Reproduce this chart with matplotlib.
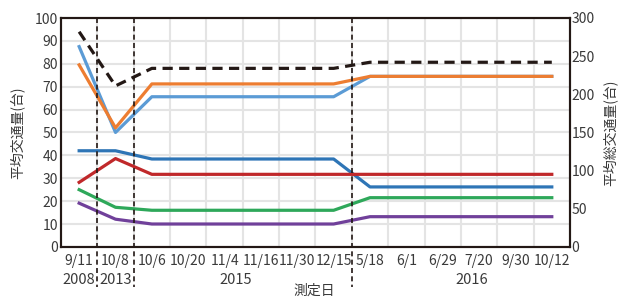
import matplotlib
matplotlib.use("Agg")
import matplotlib.pyplot as plt
import matplotlib.transforms as mtransforms
import numpy as np

plt.rcParams['font.family'] = ['Noto Sans CJK JP', 'DejaVu Sans']

dates = ['9/11', '10/8', '10/6', '10/20', '11/4', '11/16', '11/30', '12/15',
         '5/18', '6/1', '6/29', '7/20', '9/30', '10/12']
years = ['2008', '2013', '2015', '2016']
year_pos = [0, 1, 4.3, 10.8]
year_breaks = [0.5, 1.5, 7.5]

# left axis series (台)
light_blue = [87.5, 50, 65.6, 65.6, 65.6, 65.6, 65.6, 65.6, 74.5, 74.5, 74.5, 74.5, 74.5, 74.5]
orange = [79.5, 52, 71.2, 71.2, 71.2, 71.2, 71.2, 71.2, 74.5, 74.5, 74.5, 74.5, 74.5, 74.5]
blue = [42, 42, 38.4, 38.4, 38.4, 38.4, 38.4, 38.4, 26.2, 26.2, 26.2, 26.2, 26.2, 26.2]
red = [28.2, 38.6, 31.7, 31.7, 31.7, 31.7, 31.7, 31.7, 31.7, 31.7, 31.7, 31.7, 31.7, 31.7]
green = [25, 17.3, 16, 16, 16, 16, 16, 16, 21.5, 21.5, 21.5, 21.5, 21.5, 21.5]
purple = [19.1, 12.1, 10, 10, 10, 10, 10, 10, 13.2, 13.2, 13.2, 13.2, 13.2, 13.2]
# right axis (total)
total = [282, 211, 234, 234, 234, 234, 234, 234, 242, 242, 242, 242, 242, 242]

txt = '#3a3a3a'
x = np.arange(len(dates))

fig = plt.figure(figsize=(6.26, 3.0), dpi=100)
ax = fig.add_axes([0.0974, 0.177, 0.8131, 0.763])
ax2 = ax.twinx()

for v, c in [(light_blue, '#5B9BD5'), (orange, '#ED7D31'), (blue, '#2E75B6'),
             (red, '#C0282A'), (green, '#2EA85A'), (purple, '#70409A')]:
    ax.plot(x, v, color=c, lw=2.3, zorder=3)
ax2.plot(x, total, color='#231815', lw=2.3, dashes=(3.2, 2), zorder=3)

ax.set_xlim(-0.5, len(dates) - 0.5)
ax.set_ylim(0, 100)
ax2.set_ylim(0, 300)
ax.set_yticks(np.arange(0, 101, 10))
ax2.set_yticks(np.arange(0, 301, 50))
ax.set_xticks(x)
ax.set_xticklabels(dates)
ax.set_xticks(np.arange(0.5, len(dates) - 0.5, 1), minor=True)

ax.grid(True, which='minor', axis='x', color='#e4e4e4', lw=1.5)
ax.grid(True, which='major', axis='y', color='#e4e4e4', lw=1.5)
ax.set_axisbelow(True)

for a in (ax, ax2):
    a.tick_params(which='both', length=0, labelsize=10, labelcolor=txt)
    for s in a.spines.values():
        s.set_color('#231815')
        s.set_linewidth(1.5)
ax.tick_params(axis='x', pad=5)
ax.tick_params(axis='y', pad=2)
ax2.tick_params(axis='y', pad=1)

ax.set_ylabel('平均交通量(台)', fontsize=10, color=txt)
ax.yaxis.set_label_coords(-0.071, 0.5)
ax2.set_ylabel('平均総交通量(台)', fontsize=10, color=txt)
ax2.yaxis.set_label_coords(1.064, 0.5)
fig.text(0.502, 0.03, '測定日', ha='center', va='center', fontsize=10, color=txt)

trans = mtransforms.blended_transform_factory(ax.transData, ax.transAxes)
for b in year_breaks:
    ax.plot([b, b], [1, -0.175], transform=trans, color='#231815', lw=1.2,
            dashes=(3, 2), clip_on=False, zorder=4)
for yr, p in zip(years, year_pos):
    ax.text(p, -0.145, yr, transform=trans, ha='center', va='center',
            fontsize=10.5, color=txt)

fig.savefig('out.png', dpi=100)
